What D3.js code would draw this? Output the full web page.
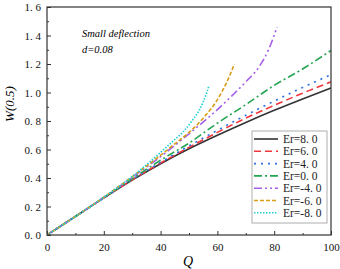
<!DOCTYPE html>
<html><head><meta charset="utf-8">
<script src="https://cdn.jsdelivr.net/npm/d3@7/dist/d3.min.js"></script>
<style>body{margin:0;background:#fff}svg{display:block}</style>
</head><body><svg id="c" width="340" height="269"></svg>
<script>
const xTicks = [0,20,40,60,80,100];
const yTicks = [0,0.2,0.4,0.6,0.8,1.0,1.2,1.4,1.6];
const seriesNames = ["Er=8. 0","Er=6. 0","Er=4. 0","Er=0. 0","Er=-4. 0","Er=-6. 0","Er=-8. 0"];
const qEr8  = [0,10,20,30,40,50,60,70,80,90,100];
const wEr8  = [0,0.13,0.26,0.385,0.50,0.605,0.70,0.79,0.875,0.955,1.032];
const qEr6  = [0,10,20,30,40,50,60,70,80,90,100];
const wEr6  = [0,0.13,0.26,0.387,0.505,0.615,0.72,0.82,0.91,0.995,1.075];
const qEr4  = [0,10,20,30,40,50,60,70,80,90,100];
const wEr4  = [0,0.13,0.26,0.39,0.51,0.625,0.735,0.84,0.94,1.035,1.125];
const qEr0  = [0,10,20,30,40,50,60,70,80,90,100];
const wEr0  = [0,0.13,0.262,0.395,0.525,0.645,0.785,0.915,1.05,1.165,1.295];
const qErm4 = [0,10,20,30,40,50,60,65,70,75,78,81];
const wErm4 = [0,0.13,0.265,0.405,0.55,0.71,0.88,0.975,1.075,1.19,1.3,1.46];
const qErm6 = [0,10,20,30,40,45,50,55,60,63,66];
const wErm6 = [0,0.13,0.265,0.41,0.56,0.64,0.72,0.82,0.95,1.06,1.2];
const qErm8 = [0,10,20,30,40,45,48,51,54,56,57];
const wErm8 = [0,0.13,0.265,0.41,0.58,0.67,0.725,0.8,0.89,0.985,1.046];
const colors = ["#333333","#f0363c","#2a6fe6","#25a553","#a65fe8","#d89e18","#1fcfd6"];
const dashes = ["none","7,4","2,5","8,3,2,3","8,3,2,3,2,3","4,2","1.5,1.5"];

const qs = [qEr8,qEr6,qEr4,qEr0,qErm4,qErm6,qErm8];
const ws = [wEr8,wEr6,wEr4,wEr0,wErm4,wErm6,wErm8];

const FF = "'Liberation Serif', 'DejaVu Serif', 'Times New Roman', serif";
const L=47,R=331,T=7,B=235;
const svg=d3.select("#c");
const x=d3.scaleLinear().domain([0,100]).range([L,R]);
const y=d3.scaleLinear().domain([0,1.6]).range([B,T]);
const fmt=v=>d3.format(".1f")(v).replace(".",". ");

const xAx=d3.axisBottom(x).tickValues(xTicks).tickSize(-4).tickPadding(8).tickFormat(d3.format("d"));
const yAx=d3.axisLeft(y).tickValues(yTicks).tickSize(-4).tickPadding(6).tickFormat(fmt);
const gx=svg.append("g").attr("transform",`translate(0,${B})`).call(xAx);
const gy=svg.append("g").attr("transform",`translate(${L},0)`).call(yAx);
[gx,gy].forEach(a=>{a.attr("font-family",FF);a.select(".domain").remove();a.selectAll("line").attr("stroke","#333");a.selectAll("text").attr("font-family",FF).attr("font-size","11px").attr("fill","#111");});
svg.append("g").attr("transform",`translate(0,${B})`).call(d3.axisBottom(x).tickValues(d3.range(10,100,20)).tickSize(-2).tickFormat("")).call(a=>{a.select(".domain").remove();a.selectAll("line").attr("stroke","#333");});
svg.append("g").attr("transform",`translate(${L},0)`).call(d3.axisLeft(y).tickValues(d3.range(0.1,1.6,0.2)).tickSize(-2).tickFormat("")).call(a=>{a.select(".domain").remove();a.selectAll("line").attr("stroke","#333");});

// curves
const line=d3.line().x(d=>x(d[0])).y(d=>y(d[1])).curve(d3.curveMonotoneX);
svg.append("clipPath").attr("id","cp").append("rect").attr("x",L).attr("y",T).attr("width",R-L).attr("height",B-T);
qs.forEach((q,i)=>{
  const data=q.map((v,j)=>[v,ws[i][j]]);
  svg.append("path").datum(data).attr("d",line).attr("fill","none")
    .attr("stroke",colors[i]).attr("stroke-width",1.6)
    .attr("stroke-dasharray",dashes[i]).attr("clip-path","url(#cp)");
});

// frame
svg.append("rect").attr("x",L).attr("y",T).attr("width",R-L).attr("height",B-T)
  .attr("fill","none").attr("stroke","#333").attr("stroke-width",1.2);

// annotations
svg.append("text").attr("x",82).attr("y",37).attr("font-family",FF).attr("font-size","10.5px").attr("font-style","italic").text("Small deflection");
svg.append("text").attr("x",82).attr("y",53).attr("font-family",FF).attr("font-size","10.5px").attr("font-style","italic").text("d=0.08");

// axis titles
svg.append("text").attr("transform","translate(14,104) rotate(-90)").attr("text-anchor","middle")
  .attr("font-family",FF).attr("font-size","13px").attr("font-style","italic").text("W(0.5)");
svg.append("text").attr("x",188).attr("y",266).attr("text-anchor","middle")
  .attr("font-family",FF).attr("font-size","14px").attr("font-style","italic").text("Q");

// legend
const lg=svg.append("g");
lg.append("rect").attr("x",252).attr("y",131).attr("width",75).attr("height",92)
  .attr("fill","#fff").attr("stroke","#999").attr("stroke-width",0.8);
seriesNames.forEach((n,i)=>{
  const yy=139+i*12.3;
  lg.append("line").attr("x1",254).attr("x2",278).attr("y1",yy).attr("y2",yy)
    .attr("stroke",colors[i]).attr("stroke-width",1.6).attr("stroke-dasharray",dashes[i]);
  lg.append("text").attr("x",283).attr("y",yy+4).attr("font-family",FF).attr("font-size","11.5px").attr("fill","#222").text(n);
});
</script></body></html>
